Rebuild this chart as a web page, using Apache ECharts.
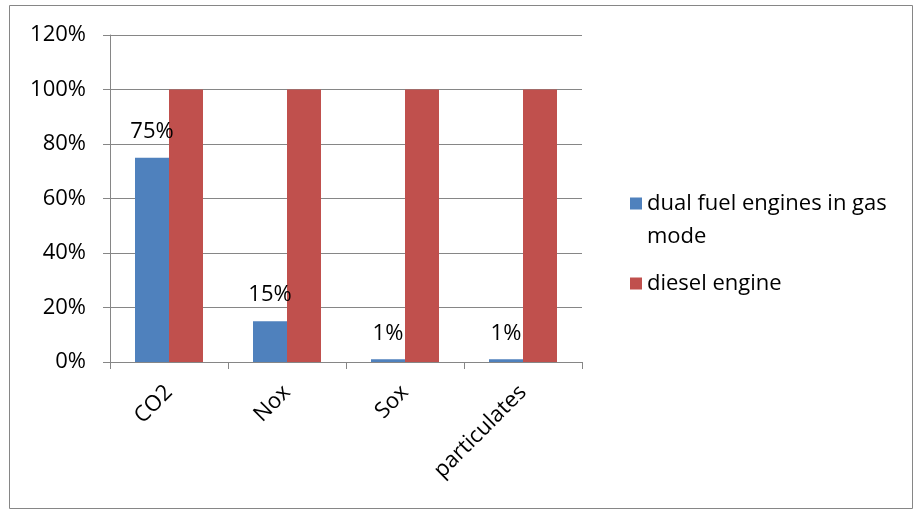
<!DOCTYPE html>
<html>
<head>
<meta charset="utf-8">
<script src="https://cdn.jsdelivr.net/npm/echarts@6/dist/echarts.min.js"></script>
<style>
  html, body { margin: 0; padding: 0; background: #fff; }
  #chart { width: 914px; height: 510px; }
</style>
</head>
<body>
<div id="chart"></div>
<script>
  // emissions relative to diesel engine (%)
  var categories = ['CO2', 'Nox', 'Sox', 'particulates']
  var dualFuel = [75, 15, 1, 1]
  var diesel = [100, 100, 100, 100]
  var seriesNames = ['dual fuel engines in gas mode', 'diesel engine']

  var font = 'Open Sans'
  var fs = 22
  var grey = '#868686'

  var chart = echarts.init(document.getElementById('chart'))
  var option = {
    animation: false,
    textStyle: { fontFamily: font },
    graphic: [{
      type: 'rect',
      shape: { x: 9.5, y: 5.5, width: 903, height: 503 },
      style: { fill: 'none', stroke: grey, lineWidth: 1 },
      silent: true
    }],
    grid: { left: 110, right: 332, top: 35, bottom: 148 },
    legend: {
      orient: 'vertical',
      left: 625,
      top: 149,
      icon: 'rect',
      itemWidth: 12,
      itemHeight: 12,
      itemGap: 14,
      data: seriesNames,
      formatter: function (name) {
        // first item wraps onto two lines, icon stays on the first one
        if (name === seriesNames[0]) return '\ndual fuel engines in gas\nmode'
        return name
      },
      textStyle: { fontFamily: font, fontSize: fs, color: '#000', lineHeight: 33 }
    },
    xAxis: {
      type: 'category',
      data: categories,
      axisLine: { lineStyle: { color: grey } },
      axisTick: { show: true, length: 7, lineStyle: { color: grey } },
      axisLabel: { rotate: 45, margin: 27, fontFamily: font, fontSize: fs, color: '#000' }
    },
    yAxis: {
      type: 'value',
      min: 0,
      max: 120,
      interval: 20,
      axisLine: { show: true, lineStyle: { color: grey } },
      axisTick: { show: true, length: 7, lineStyle: { color: grey } },
      axisLabel: { formatter: '{value}%', margin: 24, fontFamily: font, fontSize: fs, color: '#000' },
      splitLine: { lineStyle: { color: grey, width: 1 } }
    },
    series: [
      {
        name: seriesNames[0],
        type: 'bar',
        data: dualFuel,
        barWidth: 34,
        barGap: '0%',
        itemStyle: { color: '#4F81BD' },
        label: {
          show: true,
          position: 'top',
          distance: 15,
          formatter: '{c}%',
          fontFamily: font,
          fontSize: fs,
          color: '#000'
        }
      },
      {
        name: seriesNames[1],
        type: 'bar',
        data: diesel,
        barWidth: 34,
        barGap: '0%',
        itemStyle: { color: '#C0504D' }
      }
    ]
  }
  chart.setOption(option)
</script>
</body>
</html>
